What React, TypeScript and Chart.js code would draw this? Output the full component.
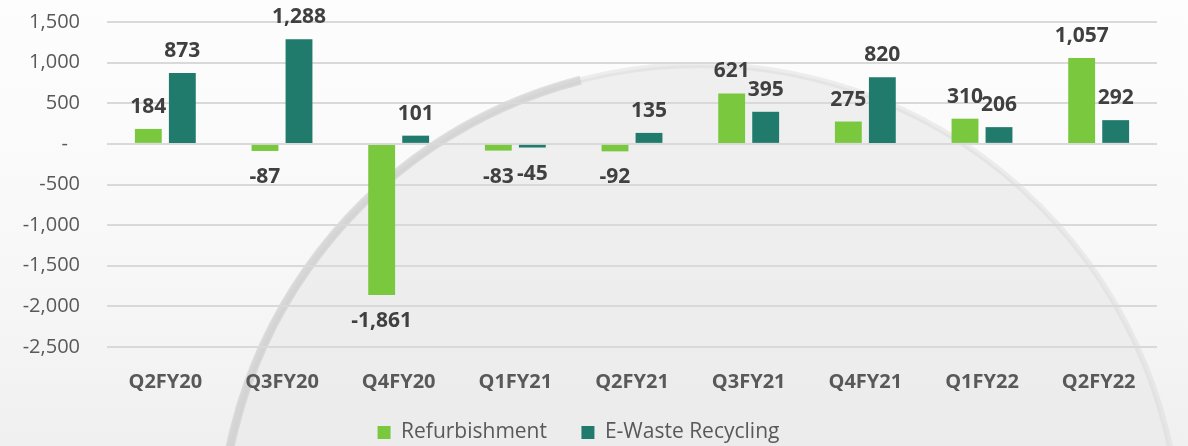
import React, { useEffect, useRef } from 'react';
import { Chart, registerables } from 'chart.js';

Chart.register(...registerables);

const categories = ['Q2FY20', 'Q3FY20', 'Q4FY20', 'Q1FY21', 'Q2FY21', 'Q3FY21', 'Q4FY21', 'Q1FY22', 'Q2FY22'];
const refurbishment = [184, -87, -1861, -83, -92, 621, 275, 310, 1057];
const eWasteRecycling = [873, 1288, 101, -45, 135, 395, 820, 206, 292];
const seriesNames = ['Refurbishment ', 'E-Waste Recycling'];
const yMin = -2500;
const yMax = 1500;
const yStep = 500;
const zeroTickLabel = '-';

const FONT = '"Open Sans", sans-serif';

const fmt = (v: number) => v.toLocaleString('en-US');

const backgroundPlugin = {
  id: 'bgDome',
  beforeDraw(chart: any) {
    const { ctx, width, height } = chart;
    ctx.save();
    ctx.fillStyle = '#ffffff';
    ctx.fillRect(0, 0, width, height);
    const g = ctx.createLinearGradient(0, 0, 0, height);
    g.addColorStop(0, 'rgba(250,250,250,0.4)');
    g.addColorStop(0.6, 'rgba(244,244,244,0.7)');
    g.addColorStop(1, 'rgba(238,238,238,0.9)');
    ctx.fillStyle = g;
    ctx.fillRect(0, 0, width, height);
    const cx = 700, cy = 545, r = 480;
    ctx.beginPath();
    ctx.arc(cx, cy, r, 0, Math.PI * 2);
    ctx.fillStyle = 'rgba(234,234,234,0.7)';
    ctx.fill();
    ctx.lineWidth = 6;
    ctx.strokeStyle = 'rgba(210,210,210,0.35)';
    ctx.stroke();
    ctx.beginPath();
    ctx.arc(cx, cy, r, Math.PI * 0.97, Math.PI * 1.42);
    ctx.lineWidth = 9;
    ctx.strokeStyle = 'rgba(195,195,195,0.5)';
    ctx.stroke();
    ctx.restore();
  },
};

// Excel accounting format shows zero as a dash, indented from the right edge
const zeroTickPlugin = {
  id: 'zeroTick',
  afterDraw(chart: any) {
    const scale = chart.scales.y;
    const ctx = chart.ctx;
    ctx.save();
    ctx.font = `20px ${FONT}`;
    ctx.fillStyle = '#595959';
    ctx.textAlign = 'right';
    ctx.textBaseline = 'middle';
    ctx.fillText(zeroTickLabel, scale.right - 27 - 12, scale.getPixelForValue(0));
    ctx.restore();
  },
};

const valueLabelPlugin = {
  id: 'valueLabels',
  afterDatasetsDraw(chart: any) {
    const ctx = chart.ctx;
    ctx.save();
    ctx.font = `bold 21px ${FONT}`;
    ctx.fillStyle = '#404040';
    ctx.textAlign = 'center';
    ctx.textBaseline = 'middle';
    chart.data.datasets.forEach((ds: any, i: number) => {
      const meta = chart.getDatasetMeta(i);
      meta.data.forEach((bar: any, j: number) => {
        const v = ds.data[j] as number;
        const { x, y } = bar.getProps(['x', 'y'], true);
        const ty = v >= 0 ? y - 22 : y + 26;
        ctx.fillText(fmt(v), x, ty);
      });
    });
    ctx.restore();
  },
};

export default function App() {
  const ref = useRef<HTMLCanvasElement | null>(null);

  useEffect(() => {
    if (!ref.current) return;
    const chart = new Chart(ref.current, {
      type: 'bar',
      data: {
        labels: categories,
        datasets: [
          {
            label: seriesNames[0],
            data: refurbishment,
            backgroundColor: '#79C83D',
            categoryPercentage: 0.583,
            barPercentage: 0.79,
          },
          {
            label: seriesNames[1],
            data: eWasteRecycling,
            backgroundColor: '#217B6C',
            categoryPercentage: 0.583,
            barPercentage: 0.79,
          },
        ],
      },
      options: {
        responsive: false,
        animation: false,
        layout: { padding: { top: 22, right: 31, left: 0, bottom: -7 } },
        plugins: {
          legend: {
            position: 'bottom',
            labels: {
              font: { family: FONT, size: 21 },
              color: '#595959',
              boxWidth: 13,
              boxHeight: 13,
              padding: 29,
            },
          },
          tooltip: { enabled: false },
        },
        scales: {
          x: {
            grid: { display: false },
            border: { display: false },
            ticks: {
              font: { family: FONT, size: 20, weight: 'bold' },
              color: '#595959',
              padding: 15,
              maxRotation: 0,
            },
            afterFit(scale: any) {
              scale.height = 46;
            },
          },
          y: {
            min: yMin,
            max: yMax,
            grid: { color: '#d9d9d9', lineWidth: 2, drawTicks: false },
            border: { display: false },
            ticks: {
              stepSize: yStep,
              font: { family: FONT, size: 20 },
              color: '#595959',
              padding: 27,
              callback: (v: any) => (Number(v) === 0 ? '' : fmt(Number(v))),
            },
            afterFit(scale: any) {
              scale.width = 107;
              scale.paddingTop = 12;
              scale.paddingBottom = 12;
            },
          },
        },
      },
      plugins: [backgroundPlugin, valueLabelPlugin, zeroTickPlugin],
    });
    return () => chart.destroy();
  }, []);

  return (
    <div style={{ position: 'fixed', left: 0, top: 0, width: 1188, height: 446 }}>
      <canvas ref={ref} width={1188} height={446} style={{ display: 'block' }} />
    </div>
  );
}
